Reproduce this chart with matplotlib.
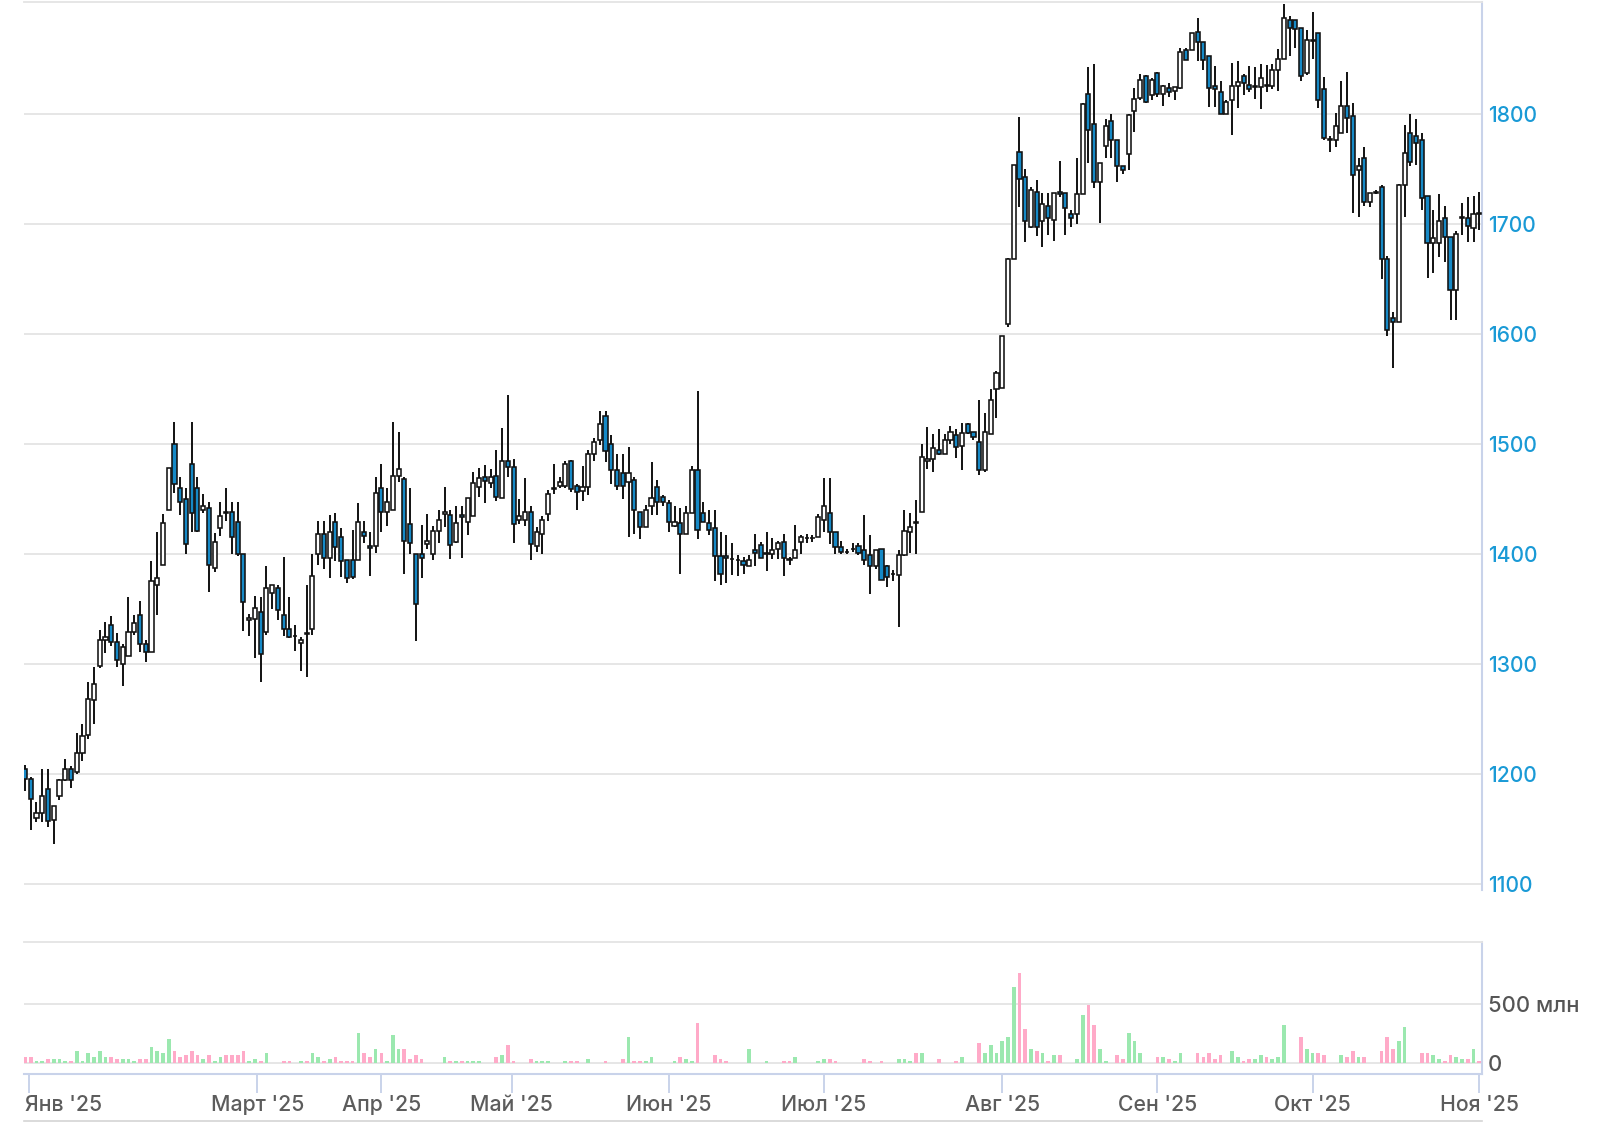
import matplotlib
matplotlib.use('Agg')
import matplotlib.pyplot as plt
import matplotlib.transforms as mtrans
import numpy as np

plt.rcParams['font.family'] = ['Inter', 'DejaVu Sans']

# daily candles, Jan 2025 .. start of Nov 2025
opens = [
    1204, 1195, 1160, 1164, 1186, 1158, 1180, 1194, 1204, 1202,
    1219, 1235, 1267, 1298, 1322, 1335, 1320, 1300, 1307, 1329,
    1344, 1318, 1311, 1372, 1390, 1440, 1500, 1460, 1450, 1482,
    1460, 1440, 1442, 1387, 1423, 1438, 1438, 1429, 1400, 1340,
    1341, 1347, 1329, 1364, 1369, 1344, 1332, 1325, 1319, 1328,
    1332, 1400, 1418, 1396, 1429, 1415, 1394, 1394, 1394, 1420,
    1407, 1407, 1460, 1438, 1440, 1471, 1468, 1427, 1400, 1400,
    1409, 1400, 1421, 1436, 1435, 1411, 1435, 1429, 1434, 1461,
    1470, 1464, 1471, 1451, 1484, 1479, 1431, 1431, 1438, 1407,
    1418, 1436, 1459, 1462, 1462, 1484, 1462, 1457, 1461, 1491,
    1503, 1525, 1500, 1476, 1473, 1465, 1467, 1438, 1424, 1443,
    1461, 1452, 1446, 1425, 1428, 1418, 1437, 1476, 1437, 1428,
    1423, 1398, 1398, 1395, 1394, 1393, 1389, 1403, 1408, 1400,
    1400, 1404, 1411, 1395, 1396, 1411, 1414, 1414, 1415, 1431,
    1437, 1420, 1406, 1402, 1404, 1407, 1403, 1399, 1389, 1404,
    1389, 1382, 1381, 1399, 1420, 1429, 1438, 1484, 1486, 1494,
    1491, 1503, 1508, 1498, 1518, 1511, 1502, 1476, 1509, 1550,
    1551, 1609, 1668, 1765, 1742, 1697, 1729, 1702, 1716, 1703,
    1729, 1728, 1709, 1709, 1727, 1818, 1791, 1738, 1771, 1793,
    1776, 1752, 1763, 1802, 1814, 1834, 1817, 1837, 1818, 1823,
    1821, 1823, 1858, 1858, 1874, 1865, 1852, 1825, 1820, 1800,
    1812, 1825, 1834, 1826, 1824, 1824, 1826, 1825, 1840, 1850,
    1885, 1885, 1878, 1837, 1866, 1873, 1822, 1777, 1776, 1782,
    1807, 1798, 1749, 1760, 1720, 1729, 1733, 1668, 1614, 1611,
    1735, 1782, 1780, 1776, 1725, 1682, 1682, 1705, 1688, 1640,
    1705, 1705, 1696, 1710,
]
highs = [
    1208, 1197, 1174, 1204, 1204, 1171, 1195, 1213, 1207, 1237,
    1245, 1283, 1297, 1331, 1338, 1343, 1328, 1318, 1361, 1344,
    1357, 1322, 1393, 1420, 1436, 1478, 1520, 1470, 1460, 1520,
    1470, 1454, 1447, 1419, 1447, 1460, 1447, 1447, 1400, 1345,
    1362, 1361, 1389, 1372, 1372, 1397, 1361, 1335, 1324, 1372,
    1400, 1430, 1430, 1435, 1437, 1423, 1394, 1422, 1446, 1430,
    1420, 1470, 1482, 1460, 1520, 1511, 1470, 1460, 1400, 1426,
    1436, 1425, 1440, 1461, 1440, 1443, 1443, 1451, 1474, 1478,
    1481, 1477, 1494, 1514, 1544, 1486, 1450, 1469, 1443, 1424,
    1434, 1458, 1482, 1470, 1484, 1485, 1463, 1480, 1494, 1505,
    1530, 1530, 1508, 1491, 1491, 1497, 1470, 1438, 1444, 1483,
    1467, 1453, 1449, 1443, 1442, 1443, 1480, 1548, 1447, 1440,
    1440, 1420, 1417, 1410, 1399, 1397, 1399, 1418, 1411, 1420,
    1414, 1412, 1418, 1397, 1426, 1417, 1418, 1417, 1436, 1469,
    1469, 1420, 1412, 1404, 1410, 1410, 1435, 1417, 1403, 1404,
    1390, 1385, 1403, 1440, 1437, 1449, 1500, 1515, 1509, 1513,
    1509, 1516, 1513, 1519, 1519, 1511, 1540, 1528, 1550, 1566,
    1598, 1669, 1753, 1797, 1750, 1733, 1740, 1728, 1728, 1728,
    1757, 1728, 1712, 1760, 1810, 1842, 1845, 1755, 1795, 1800,
    1776, 1752, 1800, 1823, 1836, 1835, 1832, 1838, 1826, 1828,
    1824, 1860, 1860, 1873, 1887, 1865, 1852, 1843, 1830, 1812,
    1846, 1848, 1836, 1843, 1842, 1845, 1844, 1845, 1859, 1900,
    1889, 1885, 1878, 1876, 1892, 1873, 1833, 1780, 1801, 1830,
    1838, 1810, 1760, 1770, 1728, 1731, 1735, 1671, 1620, 1736,
    1790, 1800, 1795, 1782, 1725, 1712, 1727, 1716, 1688, 1693,
    1719, 1724, 1725, 1729,
]
lows = [
    1184, 1149, 1156, 1156, 1152, 1136, 1176, 1193, 1187, 1200,
    1212, 1232, 1245, 1296, 1310, 1316, 1297, 1280, 1307, 1326,
    1311, 1302, 1311, 1344, 1390, 1440, 1455, 1435, 1400, 1420,
    1420, 1437, 1365, 1383, 1416, 1430, 1400, 1398, 1330, 1325,
    1305, 1283, 1326, 1350, 1340, 1325, 1323, 1312, 1293, 1288,
    1326, 1390, 1386, 1378, 1393, 1379, 1373, 1377, 1394, 1410,
    1380, 1401, 1420, 1425, 1440, 1465, 1382, 1400, 1321, 1378,
    1404, 1394, 1410, 1424, 1395, 1410, 1396, 1417, 1434, 1452,
    1446, 1460, 1448, 1451, 1470, 1410, 1427, 1425, 1394, 1402,
    1400, 1430, 1454, 1460, 1460, 1456, 1440, 1448, 1453, 1484,
    1499, 1483, 1463, 1458, 1450, 1415, 1418, 1413, 1424, 1435,
    1435, 1443, 1420, 1424, 1382, 1418, 1437, 1413, 1429, 1417,
    1375, 1372, 1373, 1381, 1380, 1382, 1389, 1389, 1396, 1384,
    1395, 1395, 1380, 1390, 1396, 1400, 1410, 1411, 1415, 1420,
    1409, 1400, 1400, 1400, 1402, 1399, 1390, 1363, 1386, 1376,
    1370, 1375, 1333, 1398, 1401, 1400, 1438, 1477, 1474, 1490,
    1491, 1500, 1487, 1476, 1509, 1503, 1472, 1474, 1509, 1523,
    1551, 1606, 1668, 1715, 1683, 1696, 1689, 1679, 1690, 1684,
    1724, 1690, 1697, 1700, 1727, 1755, 1732, 1701, 1760, 1760,
    1738, 1745, 1749, 1783, 1812, 1810, 1812, 1815, 1807, 1815,
    1812, 1822, 1849, 1858, 1848, 1840, 1806, 1806, 1800, 1800,
    1781, 1805, 1817, 1820, 1813, 1804, 1820, 1822, 1821, 1850,
    1852, 1860, 1830, 1835, 1850, 1805, 1776, 1765, 1770, 1782,
    1782, 1710, 1706, 1716, 1715, 1727, 1650, 1598, 1569, 1611,
    1706, 1752, 1753, 1712, 1651, 1655, 1670, 1665, 1612, 1612,
    1690, 1683, 1683, 1694,
]
closes = [
    1195, 1177, 1164, 1180, 1157, 1171, 1194, 1204, 1194, 1219,
    1234, 1268, 1282, 1322, 1324, 1320, 1303, 1315, 1329, 1337,
    1318, 1311, 1375, 1378, 1428, 1478, 1463, 1447, 1409, 1437,
    1421, 1443, 1390, 1411, 1434, 1437, 1415, 1400, 1356, 1342,
    1351, 1309, 1369, 1372, 1349, 1332, 1324, 1325, 1322, 1327,
    1380, 1418, 1396, 1420, 1406, 1393, 1378, 1379, 1429, 1416,
    1405, 1455, 1438, 1447, 1471, 1477, 1412, 1410, 1354, 1396,
    1412, 1421, 1431, 1438, 1408, 1428, 1433, 1451, 1464, 1469,
    1466, 1470, 1452, 1484, 1479, 1427, 1434, 1438, 1409, 1420,
    1431, 1454, 1460, 1465, 1482, 1459, 1456, 1461, 1491, 1502,
    1518, 1493, 1476, 1462, 1462, 1473, 1440, 1424, 1440, 1451,
    1447, 1447, 1429, 1429, 1418, 1437, 1476, 1422, 1429, 1422,
    1398, 1382, 1396, 1395, 1394, 1390, 1394, 1401, 1396, 1401,
    1403, 1410, 1396, 1394, 1403, 1415, 1414, 1414, 1433, 1443,
    1420, 1406, 1402, 1402, 1404, 1401, 1394, 1389, 1403, 1376,
    1379, 1382, 1399, 1421, 1424, 1428, 1488, 1486, 1496, 1491,
    1503, 1511, 1497, 1510, 1510, 1506, 1476, 1511, 1540, 1564,
    1598, 1668, 1753, 1741, 1702, 1731, 1697, 1718, 1705, 1728,
    1727, 1714, 1705, 1727, 1809, 1785, 1738, 1755, 1789, 1776,
    1752, 1749, 1799, 1813, 1831, 1811, 1831, 1818, 1825, 1820,
    1824, 1856, 1849, 1873, 1865, 1849, 1823, 1822, 1800, 1811,
    1825, 1829, 1828, 1822, 1825, 1832, 1825, 1840, 1850, 1887,
    1878, 1877, 1834, 1867, 1867, 1812, 1778, 1776, 1789, 1807,
    1796, 1744, 1752, 1720, 1728, 1728, 1668, 1603, 1611, 1735,
    1764, 1756, 1773, 1723, 1682, 1687, 1702, 1688, 1640, 1691,
    1706, 1698, 1709, 1709,
]
# traded volume, millions
volumes = [
    53, 53, 20, 20, 37, 37, 37, 20, 20, 104,
    20, 87, 53, 104, 53, 53, 37, 37, 37, 20,
    37, 37, 138, 104, 87, 205, 104, 53, 70, 104,
    70, 37, 70, 20, 53, 70, 70, 70, 104, 20,
    37, 20, 87, 0, 0, 20, 20, 0, 20, 20,
    87, 53, 20, 37, 53, 20, 20, 20, 256, 87,
    53, 121, 87, 20, 239, 121, 121, 37, 70, 37,
    0, 0, 0, 53, 20, 20, 20, 20, 20, 20,
    0, 0, 53, 70, 154, 20, 0, 0, 37, 20,
    20, 20, 0, 0, 20, 20, 20, 0, 37, 0,
    0, 20, 0, 0, 37, 222, 20, 20, 20, 53,
    0, 0, 0, 20, 53, 37, 20, 340, 0, 0,
    70, 37, 20, 0, 0, 0, 121, 0, 0, 20,
    0, 0, 20, 20, 53, 0, 0, 0, 20, 37,
    37, 20, 0, 0, 0, 0, 37, 20, 0, 20,
    0, 0, 37, 37, 20, 87, 87, 0, 0, 37,
    0, 0, 20, 53, 0, 0, 168, 87, 154, 87,
    185, 222, 640, 762, 287, 121, 104, 87, 20, 70,
    70, 0, 0, 37, 410, 494, 323, 121, 20, 0,
    70, 37, 256, 190, 87, 0, 0, 53, 53, 37,
    20, 87, 0, 0, 87, 53, 87, 37, 70, 0,
    104, 53, 20, 37, 37, 70, 53, 37, 53, 323,
    0, 0, 222, 121, 87, 87, 70, 0, 0, 70,
    53, 104, 53, 53, 0, 0, 104, 222, 121, 190,
    307, 0, 0, 87, 87, 70, 37, 20, 70, 53,
    37, 37, 121, 20,
]

month_pos = [0.7, 40.4, 62, 84.7, 112, 139, 170, 197, 224, 253]
month_labels = ["Янв '25", "Март '25", "Апр '25", "Май '25", "Июн '25",
                "Июл '25", "Авг '25", "Сен '25", "Окт '25", "Ноя '25"]
price_ticks = [1100, 1200, 1300, 1400, 1500, 1600, 1700, 1800]
vol_ticks = [0, 500]
vol_labels = ['0', '500 млн']

W, H = 1604, 1122


def box(x0, y0, x1, y1):
    return [x0 / W, 1 - y1 / H, (x1 - x0) / W, (y1 - y0) / H]


o = np.array(opens, float)
c = np.array(closes, float)
h = np.maximum(np.array(highs, float), np.maximum(o, c))
l = np.minimum(np.array(lows, float), np.minimum(o, c))
x = np.arange(len(o))
up = c >= o

grid_col = '#e4e4e4'
axis_col = '#c9d3ea'

fig = plt.figure(figsize=(W / 100, H / 100), dpi=100)
ax = fig.add_axes(box(24, 1.7, 1482, 890))
axv = fig.add_axes(box(24, 942, 1482, 1073.7), sharex=ax)

# price candles
ax.vlines(x, l, h, color='#111111', lw=1.4, zorder=2)
ax.bar(x, np.abs(c - o), bottom=np.minimum(o, c), width=0.72,
       color=np.where(up, 'white', '#1689c6'), edgecolor='#111111',
       linewidth=1.15, zorder=3)
ax.set_ylim(1094.3, 1901.8)
ax.set_xlim(-0.17, 253.47)
ax.set_yticks(price_ticks)
ax.yaxis.tick_right()
ax.tick_params(axis='y', length=0, pad=4.5, labelsize=15.2, labelcolor='#1a9ad6')
for t in ax.get_yticklabels():
    t.set_fontweight('medium')
ax.tick_params(axis='x', bottom=False, labelbottom=False)
ax.grid(axis='y', color=grid_col, lw=1.3)
ax.set_axisbelow(True)
for s in ['left', 'bottom']:
    ax.spines[s].set_visible(False)
ax.spines['top'].set_color(grid_col)
ax.spines['top'].set_linewidth(1.3)
ax.spines['right'].set_color(axis_col)
ax.spines['right'].set_linewidth(1.5)

# volume
vol = np.array(volumes, float) * 1e6
axv.bar(x, vol, width=0.65, color=np.where(up, '#9be8af', '#ffaac8'), zorder=3)
axv.set_ylim(-87.7e6, 1022.8e6)
axv.set_yticks([v * 1e6 for v in vol_ticks])
axv.set_yticklabels(vol_labels)
axv.yaxis.tick_right()
axv.tick_params(axis='y', length=0, pad=4.5, labelsize=15.8, labelcolor='#555555')
axv.grid(axis='y', color=grid_col, lw=1.3)
axv.set_axisbelow(True)
axv.set_xticks(month_pos)
axv.set_xticklabels(month_labels)
axv.tick_params(axis='x', length=13.7, width=1.4, color=axis_col, pad=1.5,
                labelsize=15.3, labelcolor='#5c5c5c')
for t in axv.get_xticklabels() + axv.get_yticklabels():
    t.set_fontweight('medium')
# first month label sits flush with the left edge of the plot
first = axv.get_xticklabels()[0]
first.set_horizontalalignment('left')
first.set_transform(first.get_transform() +
                    mtrans.ScaledTranslation(-4.5 / 100, 0, fig.dpi_scale_trans))
axv.spines['left'].set_visible(False)
axv.spines['top'].set_color(grid_col)
axv.spines['top'].set_linewidth(1.3)
for s in ['right', 'bottom']:
    axv.spines[s].set_color(axis_col)
    axv.spines[s].set_linewidth(1.5)

fig.add_artist(plt.Line2D([24 / W, 1482 / W], [1 - 1121 / H] * 2,
                          color='#d4d4d4', lw=1.2))

fig.savefig('out.png', dpi=100)
